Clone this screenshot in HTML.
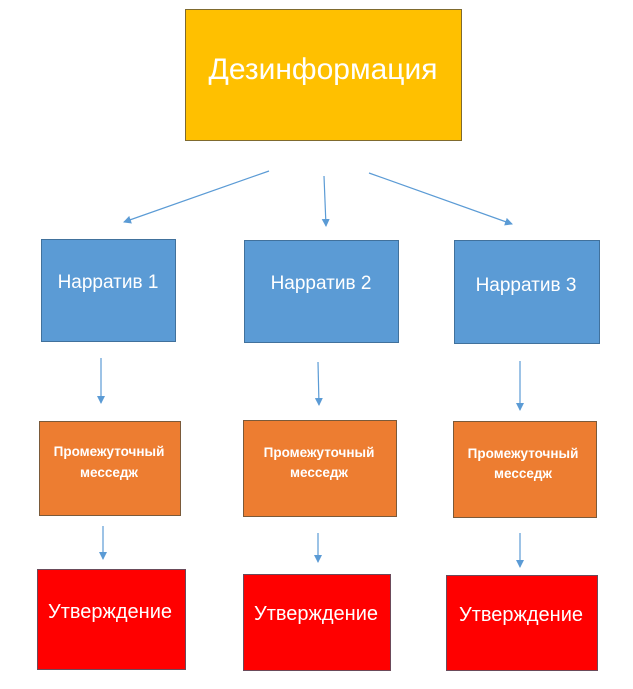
<!DOCTYPE html>
<html><head><meta charset="utf-8"><style>body{margin:0;background:#fff}</style></head><body>
<svg width="633" height="684" xmlns="http://www.w3.org/2000/svg" font-family="'Liberation Sans','DejaVu Sans',sans-serif">
<defs><marker id="a" markerWidth="8" markerHeight="8" refX="7" refY="4" orient="auto" markerUnits="userSpaceOnUse"><path d="M0,0 L8,4 L0,8z" fill="#5b9bd5"/></marker></defs>
<rect x="185.5" y="9.5" width="276" height="131" fill="#ffc000" stroke="#7f6a2e"/>
<text x="323" y="79" font-size="30" fill="#fff" text-anchor="middle">Дезинформация</text>
<g stroke="#5b9bd5" stroke-width="1.2" marker-end="url(#a)">
<line x1="269" y1="171" x2="124" y2="222"/><line x1="324" y1="176" x2="326" y2="226"/><line x1="369" y1="173" x2="512" y2="224"/>
<line x1="101" y1="358" x2="101" y2="403"/><line x1="318" y1="362" x2="319" y2="405"/><line x1="520" y1="361" x2="520" y2="410"/>
<line x1="103" y1="526" x2="103" y2="559"/><line x1="318" y1="533" x2="318" y2="562"/><line x1="520" y1="533" x2="520" y2="567"/>
</g>
<g stroke="#41719c" fill="#5b9bd5">
<rect x="41.5" y="239.5" width="134" height="102"/><rect x="244.5" y="240.5" width="154" height="102"/><rect x="454.5" y="240.5" width="145" height="103"/>
</g>
<g fill="#fff" font-size="19" text-anchor="middle">
<text x="108" y="288">Нарратив 1</text><text x="321" y="289">Нарратив 2</text><text x="526" y="291">Нарратив 3</text>
</g>
<g stroke="#7a5a3a" fill="#ed7d31">
<rect x="39.5" y="421.5" width="141" height="94"/><rect x="243.5" y="420.5" width="153" height="96"/><rect x="453.5" y="421.5" width="143" height="96"/>
</g>
<g fill="#fff" font-size="13.5" text-anchor="middle" font-weight="bold">
<text x="109" y="456">Промежуточный</text><text x="109" y="477">месседж</text>
<text x="319" y="457">Промежуточный</text><text x="319" y="477">месседж</text>
<text x="523" y="458">Промежуточный</text><text x="523" y="478">месседж</text>
</g>
<g stroke="#6b4a5a" fill="#ff0000">
<rect x="37.5" y="569.5" width="148" height="100"/><rect x="243.5" y="574.5" width="147" height="96"/><rect x="446.5" y="575.5" width="151" height="95"/>
</g>
<g fill="#fff" font-size="20" text-anchor="middle">
<text x="110" y="618">Утверждение</text><text x="316" y="620">Утверждение</text><text x="521" y="621">Утверждение</text>
</g>
</svg>
</body></html>
